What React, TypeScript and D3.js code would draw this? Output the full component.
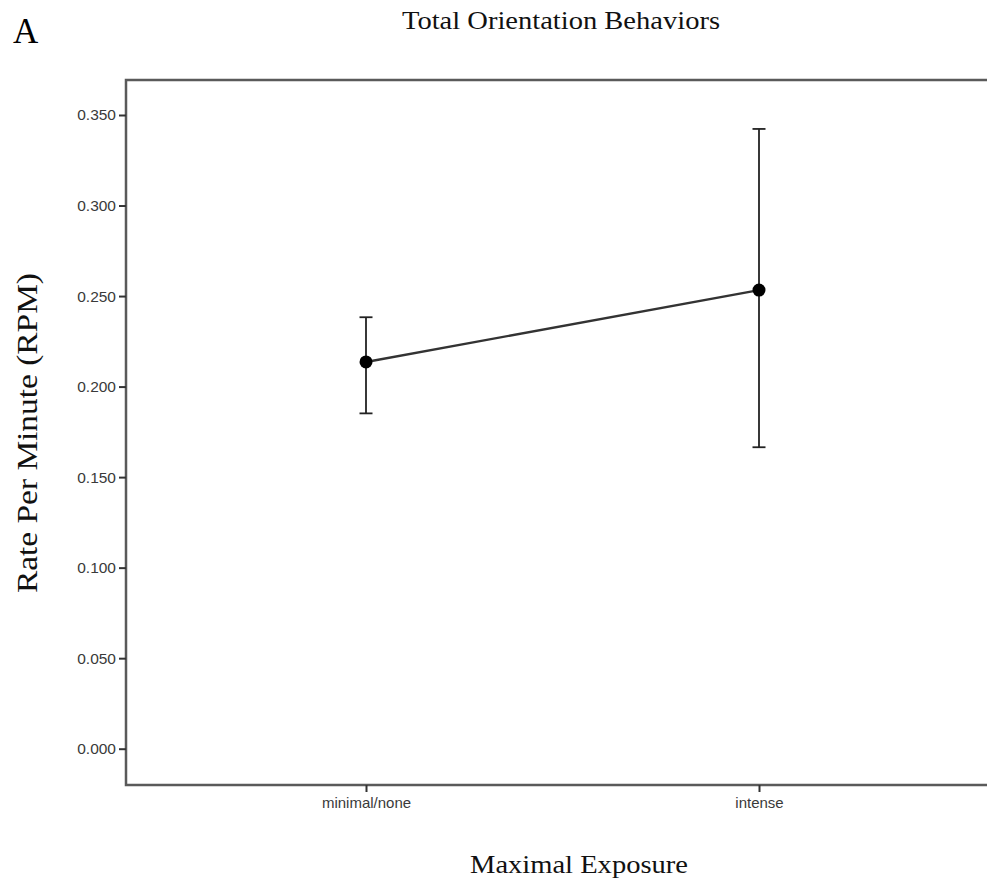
import React, { useEffect, useRef } from 'react';
import * as d3 from 'd3';

type Point = { label: string; mean: number; lower: number; upper: number };

const categories = ['minimal/none', 'intense'];
const means = [0.2136, 0.2533];
const lowers = [0.1852, 0.1665];
const uppers = [0.2383, 0.3423];
const yTicks = [0, 0.05, 0.1, 0.15, 0.2, 0.25, 0.3, 0.35];

const App = () => {
  const ref = useRef<SVGSVGElement>(null);

  useEffect(() => {
    const svg = d3.select(ref.current);
    svg.selectAll('*').remove();

    const width = 987;
    const height = 884;
    const frame = { left: 126, top: 80, bottom: 785 };
    const serif = '"Liberation Serif", "Times New Roman", serif';
    const sans = '"Liberation Sans", Arial, sans-serif';

    const data: Point[] = categories.map((c, i) => ({
      label: c,
      mean: means[i],
      lower: lowers[i],
      upper: uppers[i],
    }));

    // Scales
    const x = d3.scalePoint<string>().domain(categories).range([366, 759]);
    const y = d3.scaleLinear().domain([0, 0.35]).range([748.7, 115]);

    svg.append('rect').attr('width', width).attr('height', height).attr('fill', '#fff');

    // Frame (right side runs off the image)
    svg
      .append('path')
      .attr('d', `M${width + 5},${frame.top}H${frame.left}V${frame.bottom}H${width + 5}`)
      .attr('fill', 'none')
      .attr('stroke', '#5a5a5a')
      .attr('stroke-width', 2.5);

    // Y axis
    const yAxis = svg
      .append('g')
      .attr('transform', `translate(${frame.left},0)`)
      .call(
        d3
          .axisLeft(y)
          .tickValues(yTicks)
          .tickSize(7)
          .tickPadding(3)
          .tickFormat(d3.format('.3f'))
      );
    yAxis.select('.domain').remove();
    yAxis.selectAll('line').attr('stroke', '#333').attr('stroke-width', 2);
    yAxis
      .selectAll('text')
      .attr('font-family', sans)
      .attr('font-size', 15.5)
      .attr('fill', '#3a3a3a');

    // X axis
    const xAxis = svg
      .append('g')
      .attr('transform', `translate(0,${frame.bottom})`)
      .call(d3.axisBottom(x).tickSize(7).tickPadding(5));
    xAxis.select('.domain').remove();
    xAxis.selectAll('line').attr('stroke', '#333').attr('stroke-width', 2);
    xAxis
      .selectAll('text')
      .attr('font-family', sans)
      .attr('font-size', 15)
      .attr('fill', '#3a3a3a');

    // Error bars
    const cap = 6.5;
    const eb = svg.append('g').attr('stroke', '#222').attr('stroke-width', 1.8);
    data.forEach((d) => {
      const cx = x(d.label) as number;
      eb.append('line').attr('x1', cx).attr('x2', cx).attr('y1', y(d.lower)).attr('y2', y(d.upper));
      eb.append('line').attr('x1', cx - cap).attr('x2', cx + cap).attr('y1', y(d.lower)).attr('y2', y(d.lower));
      eb.append('line').attr('x1', cx - cap).attr('x2', cx + cap).attr('y1', y(d.upper)).attr('y2', y(d.upper));
    });

    // Line
    const line = d3
      .line<Point>()
      .x((d) => x(d.label) as number)
      .y((d) => y(d.mean));
    svg
      .append('path')
      .datum(data)
      .attr('fill', 'none')
      .attr('stroke', '#333')
      .attr('stroke-width', 2.4)
      .attr('d', line);

    // Points
    svg
      .selectAll('circle.pt')
      .data(data)
      .enter()
      .append('circle')
      .attr('class', 'pt')
      .attr('cx', (d) => x(d.label) as number)
      .attr('cy', (d) => y(d.mean))
      .attr('r', 6.5)
      .attr('fill', '#000');

    // Texts
    svg
      .append('text')
      .attr('x', 13)
      .attr('y', 43)
      .attr('font-family', serif)
      .attr('font-size', 35)
      .text('A');

    svg
      .append('text')
      .attr('x', 402)
      .attr('y', 29)
      .attr('font-family', serif)
      .attr('font-size', 25)
      .attr('textLength', 318)
      .attr('lengthAdjust', 'spacingAndGlyphs')
      .attr('fill', '#111')
      .text('Total Orientation Behaviors');

    svg
      .append('text')
      .attr('x', 470)
      .attr('y', 873)
      .attr('font-family', serif)
      .attr('font-size', 26)
      .attr('textLength', 218)
      .attr('lengthAdjust', 'spacingAndGlyphs')
      .attr('fill', '#111')
      .text('Maximal Exposure');

    svg
      .append('text')
      .attr('transform', `translate(37,593) rotate(-90)`)
      .attr('font-family', serif)
      .attr('font-size', 29)
      .attr('textLength', 320)
      .attr('lengthAdjust', 'spacingAndGlyphs')
      .attr('fill', '#111')
      .text('Rate Per Minute (RPM)');
  }, []);

  return (
    <svg
      ref={ref}
      width={987}
      height={884}
      style={{ position: 'absolute', left: 0, top: 0, display: 'block' }}
    />
  );
};

export default App;
